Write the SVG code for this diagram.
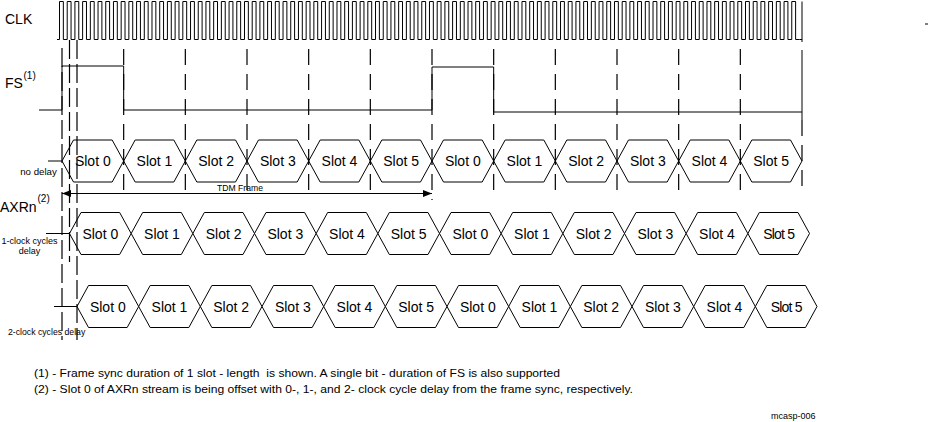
<svg xmlns="http://www.w3.org/2000/svg" xmlns:xlink="http://www.w3.org/1999/xlink" width="928" height="422" viewBox="0 0 928 422">
<style>
.w{fill:none;stroke:#000;stroke-width:1}
.dl{fill:none;stroke:#000;stroke-width:1.2;stroke-dasharray:16 9}
.dl2{fill:none;stroke:#000;stroke-width:1.2;stroke-dasharray:19 5}
.hx{fill:none;stroke:#000;stroke-width:1}
.f{font-family:"Liberation Sans",Arial,sans-serif;fill:#000}
.s{font-size:14px;text-anchor:middle}
</style>
<defs>
<polygon id="hx" class="hx" points="0,0 11.5,-21 50.17,-21 61.67,0 50.17,21 11.5,21"/>
<marker id="ah" viewBox="0 0 9 7" refX="9" refY="3.5" markerWidth="9" markerHeight="7" markerUnits="userSpaceOnUse" orient="auto-start-reverse">
<path d="M0,0 L9,3.5 L0,7 z" fill="#000"/>
</marker>
</defs>
<rect width="928" height="422" fill="#fff"/>

<g id="connectors">
<!-- CLK waveform -->
<path id="clk" class="w" d="M57,39.5 H59.5
v-38h3.854v38h3.854v-38h3.854v38h3.854v-38h3.854v38h3.854v-38h3.854v38h3.854v-38h3.854v38h3.854v-38h3.854v38h3.854v-38h3.854v38h3.854v-38h3.854v38h3.854
v-38h3.854v38h3.854v-38h3.854v38h3.854v-38h3.854v38h3.854v-38h3.854v38h3.854v-38h3.854v38h3.854v-38h3.854v38h3.854v-38h3.854v38h3.854v-38h3.854v38h3.854
v-38h3.854v38h3.854v-38h3.854v38h3.854v-38h3.854v38h3.854v-38h3.854v38h3.854v-38h3.854v38h3.854v-38h3.854v38h3.854v-38h3.854v38h3.854v-38h3.854v38h3.854
v-38h3.854v38h3.854v-38h3.854v38h3.854v-38h3.854v38h3.854v-38h3.854v38h3.854v-38h3.854v38h3.854v-38h3.854v38h3.854v-38h3.854v38h3.854v-38h3.854v38h3.854
v-38h3.854v38h3.854v-38h3.854v38h3.854v-38h3.854v38h3.854v-38h3.854v38h3.854v-38h3.854v38h3.854v-38h3.854v38h3.854v-38h3.854v38h3.854v-38h3.854v38h3.854
v-38h3.854v38h3.854v-38h3.854v38h3.854v-38h3.854v38h3.854v-38h3.854v38h3.854v-38h3.854v38h3.854v-38h3.854v38h3.854v-38h3.854v38h3.854v-38h3.854v38h3.854
v-38h3.854v38h3.854v-38h3.854v38h3.854v-38h3.854v38h3.854v-38h3.854v38h3.854v-38h3.854v38h3.854v-38h3.854v38h3.854v-38h3.854v38h3.854v-38h3.854v38h3.854
v-38h3.854v38h3.854v-38h3.854v38h3.854v-38h3.854v38h3.854v-38h3.854v38h3.854v-38h3.854v38h3.854v-38h3.854v38h3.854v-38h3.854v38h3.854v-38h3.854v38h3.854
v-38h3.854v38h3.854v-38h3.854v38h3.854v-38h3.854v38h3.854v-38h3.854v38h3.854v-38h3.854v38h3.854v-38h3.854v38h3.854v-38h3.854v38h3.854v-38h3.854v38h3.854
v-38h3.854v38h3.854v-38h3.854v38h3.854v-38h3.854v38h3.854v-38h3.854v38h3.854v-38h3.854v38h3.854v-38h3.854v38h3.854v-38h3.854v38h3.854v-38h3.854v38h3.854
v-38h3.854v38h3.854v-38h3.854v38h3.854v-38h3.854v38h3.854v-38h3.854v38h3.854v-38h3.854v38h3.854v-38h3.854v38h3.854v-38h3.854v38h3.854v-38h3.854v38h3.854
v-38h3.854v38h3.854v-38h3.854v38h3.854v-38h3.854v38h3.854v-38h3.854v38h3.854v-38h3.854v38h3.854v-38h3.854v38h3.854v-38h3.854v38h3.854v-38h3.854v38h3.854
H802 M802,1.5 V42"/>
<!-- FS waveform -->
<polyline id="fs" class="w" points="39,110 62,110 62,66 123.67,66 123.67,110 432,110 432,67 493.67,67 493.67,112 802,112"/>
<line class="w" x1="802" y1="50" x2="802" y2="120"/>
<!-- slot boundary dashed lines -->
<line class="dl" x1="123.67" y1="49" x2="123.67" y2="192"/>
<line class="dl" x1="185.33" y1="49" x2="185.33" y2="192"/>
<line class="dl" x1="247" y1="49" x2="247" y2="192"/>
<line class="dl" x1="308.67" y1="49" x2="308.67" y2="192"/>
<line class="dl" x1="370.33" y1="49" x2="370.33" y2="192"/>
<line class="dl" x1="432" y1="49" x2="432" y2="200"/>
<line class="dl" x1="493.67" y1="49" x2="493.67" y2="192"/>
<line class="dl" x1="555.33" y1="49" x2="555.33" y2="192"/>
<line class="dl" x1="617" y1="49" x2="617" y2="192"/>
<line class="dl" x1="678.67" y1="49" x2="678.67" y2="192"/>
<line class="dl" x1="740.33" y1="49" x2="740.33" y2="192"/>
<line class="dl" x1="802" y1="120" x2="802" y2="192"/>
<!-- delay reference dashed lines -->
<line class="dl2" x1="62" y1="48" x2="62" y2="340"/>
<line class="dl2" x1="69.5" y1="40" x2="69.5" y2="262"/>
<line class="dl2" x1="77" y1="40" x2="77" y2="340"/>
<!-- row stubs -->
<line class="w" x1="48" y1="161" x2="62" y2="161"/>
<line class="w" x1="46" y1="233.5" x2="69.5" y2="233.5"/>
<line class="w" x1="54" y1="306.5" x2="77" y2="306.5"/>
<!-- TDM frame arrow -->
<line class="w" x1="62" y1="193.5" x2="432" y2="193.5" marker-start="url(#ah)" marker-end="url(#ah)"/>
<line class="w" x1="925" y1="24" x2="928" y2="24"/>
</g>

<g id="labels" class="f">
<text x="5" y="24" font-size="14">CLK</text>
<text x="5" y="88" font-size="14">FS</text>
<text x="23.5" y="79" font-size="10">(1)</text>
<text x="38.5" y="175" font-size="9.7" text-anchor="middle">no delay</text>
<text x="240" y="191" font-size="8.6" text-anchor="middle">TDM Frame</text>
<text x="0" y="211.5" font-size="14">AXRn</text>
<text x="37.5" y="202" font-size="10">(2)</text>
<text x="29.5" y="244" font-size="9" text-anchor="middle">1-clock cycles</text>
<text x="29.5" y="254" font-size="9" text-anchor="middle">delay</text>
<text x="8" y="334.5" font-size="8.7">2-clock cycles delay</text>
<text x="34" y="376.5" font-size="11" xml:space="preserve" textLength="526" lengthAdjust="spacingAndGlyphs">(1) - Frame sync duration of 1 slot - length  is shown. A single bit - duration of FS is also supported</text>
<text x="34" y="392.5" font-size="11" textLength="599" lengthAdjust="spacingAndGlyphs">(2) - Slot 0 of AXRn stream is being offset with 0-, 1-, and 2- clock cycle delay from the frame sync, respectively.</text>
<text x="771" y="419" font-size="9">mcasp-006</text>
</g>

<g class="f s">
<g id="r1s0" transform="translate(62,161)"><use href="#hx"/><text x="30.83" y="5">Slot 0</text></g>
<g id="r1s1" transform="translate(123.67,161)"><use href="#hx"/><text x="30.83" y="5">Slot 1</text></g>
<g id="r1s2" transform="translate(185.33,161)"><use href="#hx"/><text x="30.83" y="5">Slot 2</text></g>
<g id="r1s3" transform="translate(247,161)"><use href="#hx"/><text x="30.83" y="5">Slot 3</text></g>
<g id="r1s4" transform="translate(308.67,161)"><use href="#hx"/><text x="30.83" y="5">Slot 4</text></g>
<g id="r1s5" transform="translate(370.33,161)"><use href="#hx"/><text x="30.83" y="5">Slot 5</text></g>
<g id="r1s6" transform="translate(432,161)"><use href="#hx"/><text x="30.83" y="5">Slot 0</text></g>
<g id="r1s7" transform="translate(493.67,161)"><use href="#hx"/><text x="30.83" y="5">Slot 1</text></g>
<g id="r1s8" transform="translate(555.33,161)"><use href="#hx"/><text x="30.83" y="5">Slot 2</text></g>
<g id="r1s9" transform="translate(617,161)"><use href="#hx"/><text x="30.83" y="5">Slot 3</text></g>
<g id="r1s10" transform="translate(678.67,161)"><use href="#hx"/><text x="30.83" y="5">Slot 4</text></g>
<g id="r1s11" transform="translate(740.33,161)"><use href="#hx"/><text x="30.83" y="5">Slot 5</text></g>

<g id="r2s0" transform="translate(69.5,233.5)"><use href="#hx"/><text x="30.83" y="5">Slot 0</text></g>
<g id="r2s1" transform="translate(131.17,233.5)"><use href="#hx"/><text x="30.83" y="5">Slot 1</text></g>
<g id="r2s2" transform="translate(192.83,233.5)"><use href="#hx"/><text x="30.83" y="5">Slot 2</text></g>
<g id="r2s3" transform="translate(254.5,233.5)"><use href="#hx"/><text x="30.83" y="5">Slot 3</text></g>
<g id="r2s4" transform="translate(316.17,233.5)"><use href="#hx"/><text x="30.83" y="5">Slot 4</text></g>
<g id="r2s5" transform="translate(377.83,233.5)"><use href="#hx"/><text x="30.83" y="5">Slot 5</text></g>
<g id="r2s6" transform="translate(439.5,233.5)"><use href="#hx"/><text x="30.83" y="5">Slot 0</text></g>
<g id="r2s7" transform="translate(501.17,233.5)"><use href="#hx"/><text x="30.83" y="5">Slot 1</text></g>
<g id="r2s8" transform="translate(562.83,233.5)"><use href="#hx"/><text x="30.83" y="5">Slot 2</text></g>
<g id="r2s9" transform="translate(624.5,233.5)"><use href="#hx"/><text x="30.83" y="5">Slot 3</text></g>
<g id="r2s10" transform="translate(686.17,233.5)"><use href="#hx"/><text x="30.83" y="5">Slot 4</text></g>
<g id="r2s11" transform="translate(747.83,233.5)"><use href="#hx"/><text x="30.83" y="5" letter-spacing="-0.8">Slot 5</text></g>

<g id="r3s0" transform="translate(77,306.5)"><use href="#hx"/><text x="30.83" y="5">Slot 0</text></g>
<g id="r3s1" transform="translate(138.67,306.5)"><use href="#hx"/><text x="30.83" y="5">Slot 1</text></g>
<g id="r3s2" transform="translate(200.33,306.5)"><use href="#hx"/><text x="30.83" y="5">Slot 2</text></g>
<g id="r3s3" transform="translate(262,306.5)"><use href="#hx"/><text x="30.83" y="5">Slot 3</text></g>
<g id="r3s4" transform="translate(323.67,306.5)"><use href="#hx"/><text x="30.83" y="5">Slot 4</text></g>
<g id="r3s5" transform="translate(385.33,306.5)"><use href="#hx"/><text x="30.83" y="5">Slot 5</text></g>
<g id="r3s6" transform="translate(447,306.5)"><use href="#hx"/><text x="30.83" y="5">Slot 0</text></g>
<g id="r3s7" transform="translate(508.67,306.5)"><use href="#hx"/><text x="30.83" y="5">Slot 1</text></g>
<g id="r3s8" transform="translate(570.33,306.5)"><use href="#hx"/><text x="30.83" y="5">Slot 2</text></g>
<g id="r3s9" transform="translate(632,306.5)"><use href="#hx"/><text x="30.83" y="5">Slot 3</text></g>
<g id="r3s10" transform="translate(693.67,306.5)"><use href="#hx"/><text x="30.83" y="5">Slot 4</text></g>
<g id="r3s11" transform="translate(755.33,306.5)"><use href="#hx"/><text x="30.83" y="5" letter-spacing="-0.8">Slot 5</text></g>
</g>
</svg>
